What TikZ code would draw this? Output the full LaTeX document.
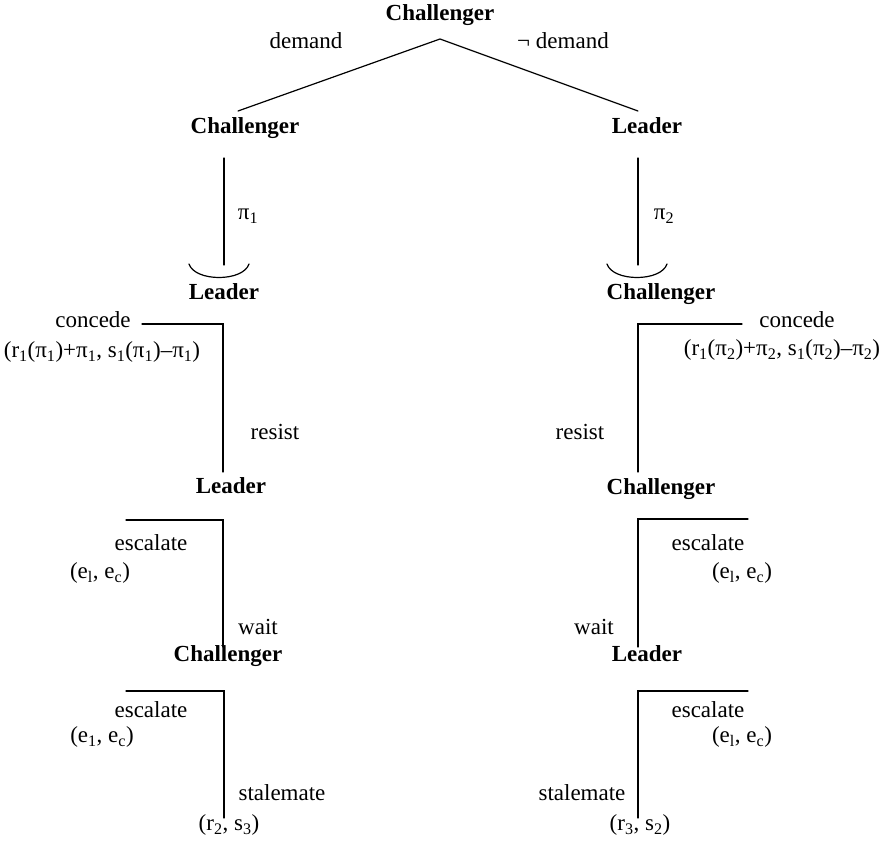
\documentclass[tikz,border=0pt]{standalone}
\usepackage{fontspec}
\setmainfont{Liberation Serif}
\newcommand\sbs[1]{\textsubscript{#1}}
\tikzset{
  player/.style={font=\fontsize{23}{27}\selectfont\bfseries, inner sep=0pt, text height=0.7em, text depth=0.22em},
  lab/.style={font=\fontsize{23}{27}\selectfont, inner sep=0pt, text height=0.7em, text depth=0.22em},
  edge/.style={line width=1.2pt, line cap=round}
}
\begin{document}
\begin{tikzpicture}[x=1pt,y=-1pt]
\useasboundingbox (0,0) rectangle (879,844);
% root
\node[player] (c0) at (440,18) {Challenger};
\coordinate (apex) at (440,39);
\coordinate (dl) at (238,111);
\coordinate (dr) at (638,111);
\draw[edge] (dl) -- (apex) -- (dr);
\node[lab] (dem) at (306,46) {demand};
\node[lab] (ndem) at (563,46) {¬ demand};
% level 2
\node[player] (c1) at (245,131) {Challenger};
\node[player] (l1) at (647,131) {Leader};
\coordinate (v1t) at (224,158);
\coordinate (v1b) at (224,265);
\coordinate (v2t) at (638,158);
\coordinate (v2b) at (638,265);
\draw[edge] (v1t) -- (v1b);
\draw[edge] (v2t) -- (v2b);
\coordinate (a1l) at (189,264);
\coordinate (a1r) at (249,264);
\coordinate (a2l) at (607,264);
\coordinate (a2r) at (667,264);
\draw[edge] (a1l) .. controls (195,282) and (243,282) .. (a1r);
\draw[edge] (a2l) .. controls (613,282) and (661,282) .. (a2r);
\node[lab] (p1) at (248,217) {π\sbs{1}};
\node[lab] (p2) at (664,217) {π\sbs{2}};
% level 3
\node[player] (l2) at (224,297) {Leader};
\node[player] (c2) at (661,297) {Challenger};
\coordinate (h3l) at (142,324);
\coordinate (k3l) at (223,324);
\coordinate (b3l) at (223,472);
\draw[edge] (h3l) -- (k3l) -- (b3l);
\coordinate (h3r) at (742,324);
\coordinate (k3r) at (638,324);
\coordinate (b3r) at (638,472);
\draw[edge] (h3r) -- (k3r) -- (b3r);
\node[lab] (conl) at (93,325) {concede};
\node[lab] (payl) at (102,355) {(r\sbs{1}(π\sbs{1})+π\sbs{1}, s\sbs{1}(π\sbs{1})–π\sbs{1})};
\node[lab] (resl) at (275,437) {resist};
\node[lab] (conr) at (797,325) {concede};
\node[lab] (payr) at (782,353) {(r\sbs{1}(π\sbs{2})+π\sbs{2}, s\sbs{1}(π\sbs{2})–π\sbs{2})};
\node[lab] (resr) at (580,437) {resist};
% level 4
\node[player] (l3) at (231,491) {Leader};
\node[player] (c3) at (661,492) {Challenger};
\coordinate (h4l) at (126,520);
\coordinate (k4l) at (223,520);
\coordinate (b4l) at (223,647);
\draw[edge] (h4l) -- (k4l) -- (b4l);
\coordinate (h4r) at (748,519);
\coordinate (k4r) at (638,519);
\coordinate (b4r) at (638,647);
\draw[edge] (h4r) -- (k4r) -- (b4r);
\node[lab] (escl4) at (151,548) {escalate};
\node[lab] (pel4) at (100,576) {(e\sbs{l}, e\sbs{c})};
\node[lab] (waitl) at (258,632) {wait};
\node[lab] (escr4) at (708,548) {escalate};
\node[lab] (per4) at (742,576) {(e\sbs{l}, e\sbs{c})};
\node[lab] (waitr) at (594,632) {wait};
% level 5
\node[player] (c4) at (228,659) {Challenger};
\node[player] (l4) at (647,659) {Leader};
\coordinate (h5l) at (126,691);
\coordinate (k5l) at (224,691);
\coordinate (b5l) at (224,818);
\draw[edge] (h5l) -- (k5l) -- (b5l);
\coordinate (h5r) at (748,691);
\coordinate (k5r) at (638,691);
\coordinate (b5r) at (638,818);
\draw[edge] (h5r) -- (k5r) -- (b5r);
\node[lab] (escl5) at (151,715) {escalate};
\node[lab] (pel5) at (102,740) {(e\sbs{1}, e\sbs{c})};
\node[lab] (stl) at (282,798) {stalemate};
\node[lab] (payst_l) at (229,828) {(r\sbs{2}, s\sbs{3})};
\node[lab] (escr5) at (708,715) {escalate};
\node[lab] (per5) at (742,740) {(e\sbs{l}, e\sbs{c})};
\node[lab] (str) at (582,798) {stalemate};
\node[lab] (payst_r) at (640,828) {(r\sbs{3}, s\sbs{2})};
\end{tikzpicture}
\end{document}
